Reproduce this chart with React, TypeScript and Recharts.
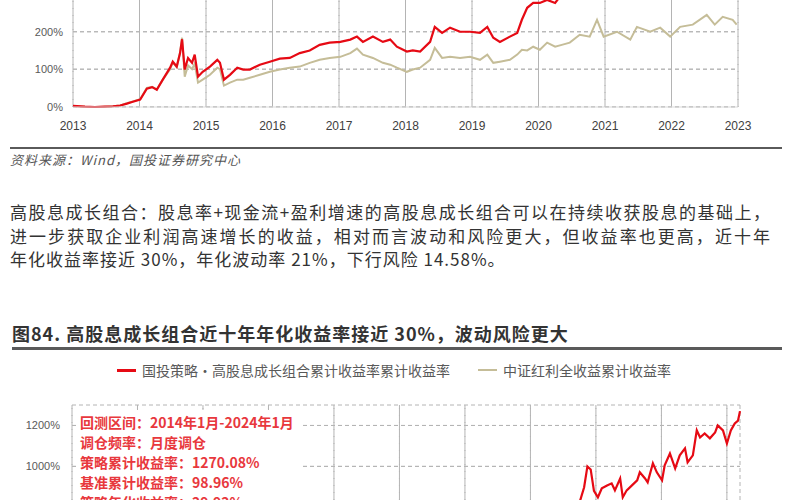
import React from 'react';
import { LineChart, Line, XAxis, YAxis, CartesianGrid, ReferenceLine, Legend } from 'recharts';

// ---- upper chart (cut off at the top of the page) ----
const topDates = [
  2013.0, 2013.18, 2013.33, 2013.48, 2013.6, 2013.71, 2013.81, 2013.9,
  2014.01, 2014.11, 2014.19, 2014.26, 2014.35, 2014.46, 2014.5, 2014.56,
  2014.61, 2014.64, 2014.68, 2014.73, 2014.79, 2014.83, 2014.88, 2014.95,
  2015.06, 2015.17, 2015.21, 2015.27, 2015.36, 2015.47, 2015.56, 2015.66,
  2015.81, 2015.96, 2016.11, 2016.26, 2016.41, 2016.56, 2016.71, 2016.86,
  2017.02, 2017.17, 2017.27, 2017.36, 2017.51, 2017.66, 2017.77, 2017.87,
  2018.02, 2018.11, 2018.22, 2018.37, 2018.44, 2018.55, 2018.67, 2018.82,
  2018.97, 2019.12, 2019.23, 2019.32, 2019.42, 2019.57, 2019.68, 2019.75,
  2019.83, 2019.92, 2020.02, 2020.13, 2020.25, 2020.35, 2020.47, 2020.62,
  2020.77, 2020.88, 2020.98, 2021.18, 2021.38, 2021.48, 2021.68, 2021.83,
  2021.98, 2022.13, 2022.32, 2022.53, 2022.65, 2022.77, 2022.92, 2022.98,
];
const topStrategy = [
  2, 0, -1, 0, 1, 3, 8, 13,
  19, 48, 52, 45, 72, 104, 120, 107,
  143, 180, 99, 130, 117, 139, 80, 93,
  107, 125, 117, 72, 85, 104, 99, 99,
  112, 120, 128, 130, 143, 150, 165, 171,
  173, 179, 187, 173, 187, 173, 179, 160,
  147, 150, 147, 173, 213, 197, 211, 200,
  200, 197, 213, 184, 173, 187, 197, 232,
  264, 277, 277, 285, 277, 300, 330, 360,
  400, 420, 400, 430, 410, 440, 430, 450,
  420, 440, 460, 480, 470, 490, 500, 490,
];
const topBenchmark = [
  2, 0, -1, 0, 1, 3, 9, 14,
  20, 50, 53, 46, 72, 100, 118, 105,
  145, 184, 80, 110, 100, 115, 64, 72,
  85, 104, 100, 56, 64, 72, 72, 77,
  85, 93, 99, 104, 107, 117, 125, 130,
  133, 143, 155, 139, 130, 117, 112, 104,
  93, 99, 104, 125, 157, 130, 133, 130,
  133, 125, 139, 117, 120, 125, 139, 152,
  150, 160, 152, 171, 160, 165, 171, 192,
  187, 232, 187, 200, 179, 213, 200, 211,
  187, 213, 219, 245, 219, 240, 232, 219,
];
const topYearTicks = [2013, 2014, 2015, 2016, 2017, 2018, 2019, 2020, 2021, 2022, 2023];
const topValueTicks = [0, 100, 200, 300, 400, 500, 600];

// ---- figure 84 ----
const bottomDates = [
  2014.0, 2014.5, 2014.9, 2015.4, 2015.6, 2016.0, 2016.5, 2017.0, 2017.5,
  2018.0, 2018.5, 2019.0, 2019.5, 2020.0, 2020.5, 2021.0, 2021.3, 2021.6,
  2021.76, 2021.82, 2021.87, 2021.92, 2021.97,
  2022.03, 2022.09, 2022.17, 2022.24, 2022.29, 2022.37, 2022.41, 2022.47,
  2022.55, 2022.63, 2022.67, 2022.75, 2022.79, 2022.87, 2022.93,
  2023.01, 2023.05, 2023.13, 2023.21, 2023.28, 2023.36, 2023.4, 2023.48,
  2023.54, 2023.59, 2023.66, 2023.74, 2023.82, 2023.86, 2023.94,
  2024.0, 2024.06, 2024.12, 2024.17, 2024.2,
];
const bottomStrategy = [
  0, 40, 120, 260, 180, 200, 240, 280, 330,
  360, 330, 340, 420, 520, 600, 680, 720, 780,
  834, 898, 1000, 985, 880,
  849, 893, 907, 917, 883, 941, 849, 883,
  907, 932, 971, 941, 922, 1015, 971,
  932, 1005, 1063, 990, 1054, 1088, 1020, 1054,
  1176, 1141, 1161, 1137, 1166, 1200, 1176,
  1112, 1176, 1210, 1224, 1270,
];
const bottomBenchmark = [
  0, 10, 50, 120, 70, 60, 65, 75, 85,
  80, 55, 50, 60, 55, 50, 60, 65, 75,
  78, 80, 84, 82, 78,
  76, 80, 82, 84, 80, 86, 78, 80,
  82, 84, 88, 86, 84, 90, 88,
  86, 90, 94, 90, 92, 95, 92, 94,
  100, 98, 100, 97, 99, 102, 100,
  96, 98, 100, 99, 99,
];
const bottomYearTicks = [2014, 2015, 2016, 2017, 2018, 2019, 2020, 2021, 2022, 2023, 2024];
const bottomValueTicks = [0, 200, 400, 600, 800, 1000, 1200];

const strategyName = '国投策略·高股息成长组合累计收益率累计收益率';
const benchmarkName = '中证红利全收益累计收益率';
const seriesOrder = [strategyName, benchmarkName];

const sourceText = '资料来源：Wind，国投证券研究中心';
const paragraphLines = [
  '高股息成长组合：股息率+现金流+盈利增速的高股息成长组合可以在持续收获股息的基础上，',
  '进一步获取企业利润高速增长的收益，相对而言波动和风险更大，但收益率也更高，近十年',
  '年化收益率接近 30%，年化波动率 21%，下行风险 14.58%。',
];
const figureTitle = '图84. 高股息成长组合近十年年化收益率接近 30%，波动风险更大';
const backtestNotes = [
  '回测区间：2014年1月-2024年1月',
  '调仓频率：月度调仓',
  '策略累计收益率：1270.08%',
  '基准累计收益率：98.96%',
  '策略年化收益率：29.92%',
];

const topData = topDates.map((d, i) => ({ date: d, strategy: topStrategy[i], benchmark: topBenchmark[i] }));
const bottomData = bottomDates.map((d, i) => ({ date: d, strategy: bottomStrategy[i], benchmark: bottomBenchmark[i] }));

const RED = '#e60a14';
const OLIVE = '#c5bd98';
const GRID = '#b4b4b4';
const CJK = "'Noto Sans CJK SC', 'Noto Sans', sans-serif";
const LATIN = "'Liberation Sans', Arial, sans-serif";
const pct = (v: number) => `${v}%`;

const legendLefts = [117, 478];

const renderLegend = ({ payload }: any) => {
  const items = [...(payload || [])].sort(
    (a: any, b: any) => seriesOrder.indexOf(a.value) - seriesOrder.indexOf(b.value)
  );
  return (
    <div style={{ position: 'relative', height: 18 }}>
      {items.map((entry: any, i: number) => (
        <div
          key={entry.value}
          style={{ position: 'absolute', left: legendLefts[i], top: 0, height: 18, display: 'flex', alignItems: 'center' }}
        >
          <span style={{ display: 'inline-block', width: 19, height: i === 0 ? 3 : 2, background: entry.color, marginRight: 6 }} />
          <span style={{ fontFamily: CJK, fontSize: 14, color: '#595959', whiteSpace: 'nowrap' }}>{entry.value}</span>
        </div>
      ))}
    </div>
  );
};

// dashed grid lines taken from the tick arrays, drawn through the chart's own scales
const gridLines = (xs: number[], ys: number[]) => [
  ...xs.map((x) => (
    <ReferenceLine key={`gx${x}`} x={x} stroke={GRID} strokeWidth={1} strokeDasharray="4 3" ifOverflow="visible" />
  )),
  ...ys.map((y) => (
    <ReferenceLine key={`gy${y}`} y={y} stroke={GRID} strokeWidth={1} strokeDasharray="4 3" ifOverflow="visible" />
  )),
];

export default function App() {
  return (
    <div
      style={{
        position: 'absolute', left: 0, top: 0, width: 800, height: 500,
        overflow: 'hidden', background: '#fff', fontFamily: CJK,
      }}
    >
      {/* upper chart, its top is outside the page */}
      <div style={{ position: 'absolute', left: 0, top: 0, width: 800, height: 140, overflow: 'hidden' }}>
        <div style={{ position: 'absolute', left: 0, top: -123 }}>
          <LineChart width={800} height={260} data={topData} margin={{ top: 5, right: 62, bottom: 0, left: 0 }}>
            <CartesianGrid stroke={GRID} strokeWidth={1} strokeDasharray="4 3" />
            <XAxis
              dataKey="date" type="number" domain={[2013, 2023]} ticks={topYearTicks}
              tickLine={false} axisLine={{ stroke: '#d9d9d9' }} tickMargin={8} height={30}
              tick={{ fontSize: 12, fill: '#404040', fontFamily: LATIN }}
            />
            <YAxis
              type="number" domain={[0, 600]} ticks={topValueTicks} width={73}
              tickLine={false} axisLine={false} tickMargin={4} tickFormatter={pct}
              tick={{ fontSize: 11, fill: '#595959', fontFamily: LATIN }}
            />
            {gridLines(topYearTicks, topValueTicks.slice(1))}
            <Line dataKey="benchmark" stroke={OLIVE} strokeWidth={2} dot={false} isAnimationActive={false} />
            <Line dataKey="strategy" stroke={RED} strokeWidth={2.2} dot={false} isAnimationActive={false} />
          </LineChart>
        </div>
      </div>

      <div style={{ position: 'absolute', left: 10, top: 147, width: 772, height: 2, background: '#5a5a5a' }} />
      <div style={{ position: 'absolute', left: 10, top: 152, fontSize: 13, lineHeight: '16px', fontStyle: 'italic', color: '#555', letterSpacing: 1 }}>
        {sourceText}
      </div>

      {paragraphLines.map((line, i) => (
        <div
          key={i}
          style={{
            position: 'absolute', left: 10, top: 200 + i * 23.5, width: i < 2 ? 760 : undefined,
            fontSize: 17, lineHeight: '23.5px', color: '#333', whiteSpace: 'nowrap',
            textAlign: i < 2 ? 'justify' : 'left', textAlignLast: i < 2 ? 'justify' : 'auto',
            letterSpacing: i < 2 ? 0 : 1,
          }}
        >
          {line}
        </div>
      ))}

      <div style={{ position: 'absolute', left: 12, top: 322, fontSize: 18, lineHeight: '22px', fontWeight: 'bold', color: '#333', letterSpacing: 1, whiteSpace: 'nowrap' }}>
        {figureTitle}
      </div>
      <div style={{ position: 'absolute', left: 12, top: 347, width: 770, height: 3, background: '#5a5a5a' }} />

      {/* figure 84 chart, its lower part is below the page */}
      <div style={{ position: 'absolute', left: 0, top: 355 }}>
        <LineChart width={800} height={346} data={bottomData} margin={{ top: 50, right: 60, bottom: 0, left: 0 }}>
          <CartesianGrid stroke={GRID} strokeWidth={1} strokeDasharray="4 3" />
          <XAxis
            dataKey="date" type="number" domain={[2014, 2024.2]} ticks={bottomYearTicks}
            tickLine={false} axisLine={{ stroke: '#d9d9d9' }} tickMargin={8} height={30}
            tick={{ fontSize: 12, fill: '#404040', fontFamily: LATIN }}
          />
          <YAxis
            type="number" domain={[0, 1300]} ticks={bottomValueTicks} width={72}
            tickLine={false} axisLine={false} tickMargin={6} tickFormatter={pct}
            tick={{ fontSize: 11, fill: '#595959', fontFamily: LATIN }}
          />
          {gridLines(bottomYearTicks, bottomValueTicks.slice(1))}
          <Legend
            verticalAlign="middle" align="center" content={renderLegend}
            wrapperStyle={{ top: 6, left: 0, width: 800, height: 18 }}
          />
          <Line dataKey="benchmark" name={benchmarkName} stroke={OLIVE} strokeWidth={2} dot={false} isAnimationActive={false} />
          <Line dataKey="strategy" name={strategyName} stroke={RED} strokeWidth={2.2} dot={false} isAnimationActive={false} />
        </LineChart>
      </div>

      <div style={{ position: 'absolute', left: 76, top: 410, width: 226, paddingTop: 2, background: '#fff' }}>
        {backtestNotes.map((t) => (
          <div key={t} style={{ fontSize: 14, lineHeight: '20px', fontWeight: 'bold', color: '#e8383d', paddingLeft: 4, whiteSpace: 'nowrap' }}>
            {t}
          </div>
        ))}
      </div>
    </div>
  );
}
